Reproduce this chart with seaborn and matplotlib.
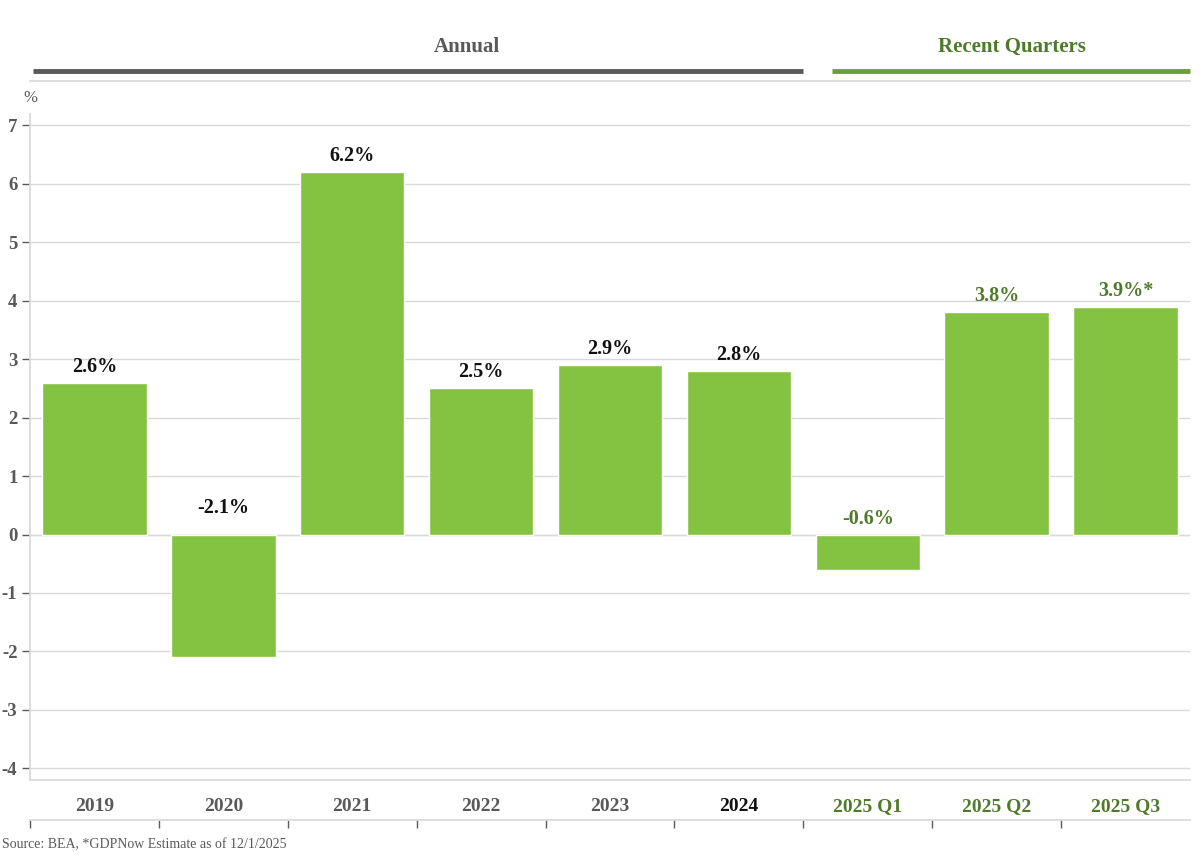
import pandas as pd
import numpy as np
import matplotlib
matplotlib.use('Agg')
import matplotlib.pyplot as plt
import matplotlib.transforms as mtransforms
import seaborn as sns

# datos
periodos = ['2019', '2020', '2021', '2022', '2023', '2024', '2025 Q1', '2025 Q2', '2025 Q3']
crecimiento = [2.6, -2.1, 6.2, 2.5, 2.9, 2.8, -0.6, 3.8, 3.9]
etiquetas = ['2.6%', '-2.1%', '6.2%', '2.5%', '2.9%', '2.8%', '-0.6%', '3.8%', '3.9%*']
grupos = ['Annual', 'Recent Quarters']
fuente = 'Source: BEA, *GDPNow Estimate as of 12/1/2025'

verde = '#84C241'
verde_osc = '#4E7A2A'
gris = '#595959'
gris_claro = '#D9D9D9'

sns.set_theme(style='white')
plt.rcParams['font.family'] = ['Liberation Serif', 'DejaVu Serif']
plt.rcParams['axes.unicode_minus'] = False

df = pd.DataFrame({'periodo': periodos, 'valor': crecimiento})

fig = plt.figure(figsize=(12, 8.55), dpi=100)
W, H = 1200, 855
ax = fig.add_axes([30 / W, (H - 780) / H, 1160 / W, 699 / H])

sns.barplot(data=df, x='periodo', y='valor', color=verde, saturation=1,
            width=0.81, ax=ax, zorder=3)

ax.set_xlim(-0.5, 8.5)
ax.set_ylim(-4.2, 7.76)
ax.set_yticks(range(-4, 8))
ax.set_yticklabels([str(i) for i in range(-4, 8)], fontsize=13.5,
                   fontweight='bold', color=gris)
ax.tick_params(axis='y', length=6, width=1, color=gris, pad=3, left=True)
ax.yaxis.grid(True, color=gris_claro, lw=1, zorder=0)
ax.axhline(0, color=gris_claro, lw=1, zorder=1)

ax.spines['right'].set_visible(False)
ax.spines['left'].set_color(gris_claro)
ax.spines['left'].set_bounds(-4.2, 7.2)
ax.spines['top'].set_color(gris_claro)
ax.spines['bottom'].set_color(gris_claro)

# etiquetas de categoria
ax.set_xticks(range(len(periodos)))
ax.set_xticklabels(periodos, fontsize=14, fontweight='bold')
ax.tick_params(axis='x', length=0, pad=13)
for i, lab in enumerate(ax.get_xticklabels()):
    if i >= 6:
        lab.set_color(verde_osc)
    elif i == 5:
        lab.set_color('#111111')
    else:
        lab.set_color(gris)
ax.set_xlabel('')
ax.set_ylabel('')

# valores sobre las barras
for i, (v, t) in enumerate(zip(crecimiento, etiquetas)):
    col = verde_osc if i >= 6 else '#111111'
    off = 16 if v >= 0 else (27 if v < -1 else 16)
    ax.annotate(t, (i, max(v, 0)), xytext=(0, off), textcoords='offset pixels',
                ha='center', va='center', fontsize=14.5, fontweight='bold',
                color=col, zorder=5)

# eje inferior con marcas entre categorias
ax2 = fig.add_axes([30 / W, (H - 820) / H, 1160 / W, 0.001])
ax2.set_xlim(-0.5, 8.5)
ax2.set_yticks([])
for s in ['top', 'left', 'right']:
    ax2.spines[s].set_visible(False)
ax2.spines['bottom'].set_color(gris_claro)
ax2.set_xticks(np.arange(-0.5, 8, 1))
ax2.set_xticklabels([])
ax2.tick_params(axis='x', bottom=True, length=6, width=1, color=gris, direction='out')
ax2.patch.set_alpha(0)

# encabezados de grupo
trans = mtransforms.blended_transform_factory(ax.transData, ax.transAxes)
ax.plot([-0.48, 5.5], [1.0143, 1.0143], transform=trans, color=gris, lw=3.5,
        clip_on=False, solid_capstyle='butt')
ax.plot([5.72, 8.5], [1.0143, 1.0143], transform=trans, color='#6A9F3A', lw=3.5,
        clip_on=False, solid_capstyle='butt')
ax.text(2.89, 1.0486, grupos[0], transform=trans, ha='center', va='center',
        fontsize=15, fontweight='bold', color=gris)
ax.text(7.12, 1.0486, grupos[1], transform=trans, ha='center', va='center',
        fontsize=15, fontweight='bold', color=verde_osc)

fig.text(30 / W, 1 - 98 / H, '%', ha='center', va='center', fontsize=12, color=gris)
fig.text(2 / W, 1 - 845 / H, fuente, ha='left', va='center', fontsize=10, color=gris)

fig.savefig('out.png', dpi=100, facecolor='white')
